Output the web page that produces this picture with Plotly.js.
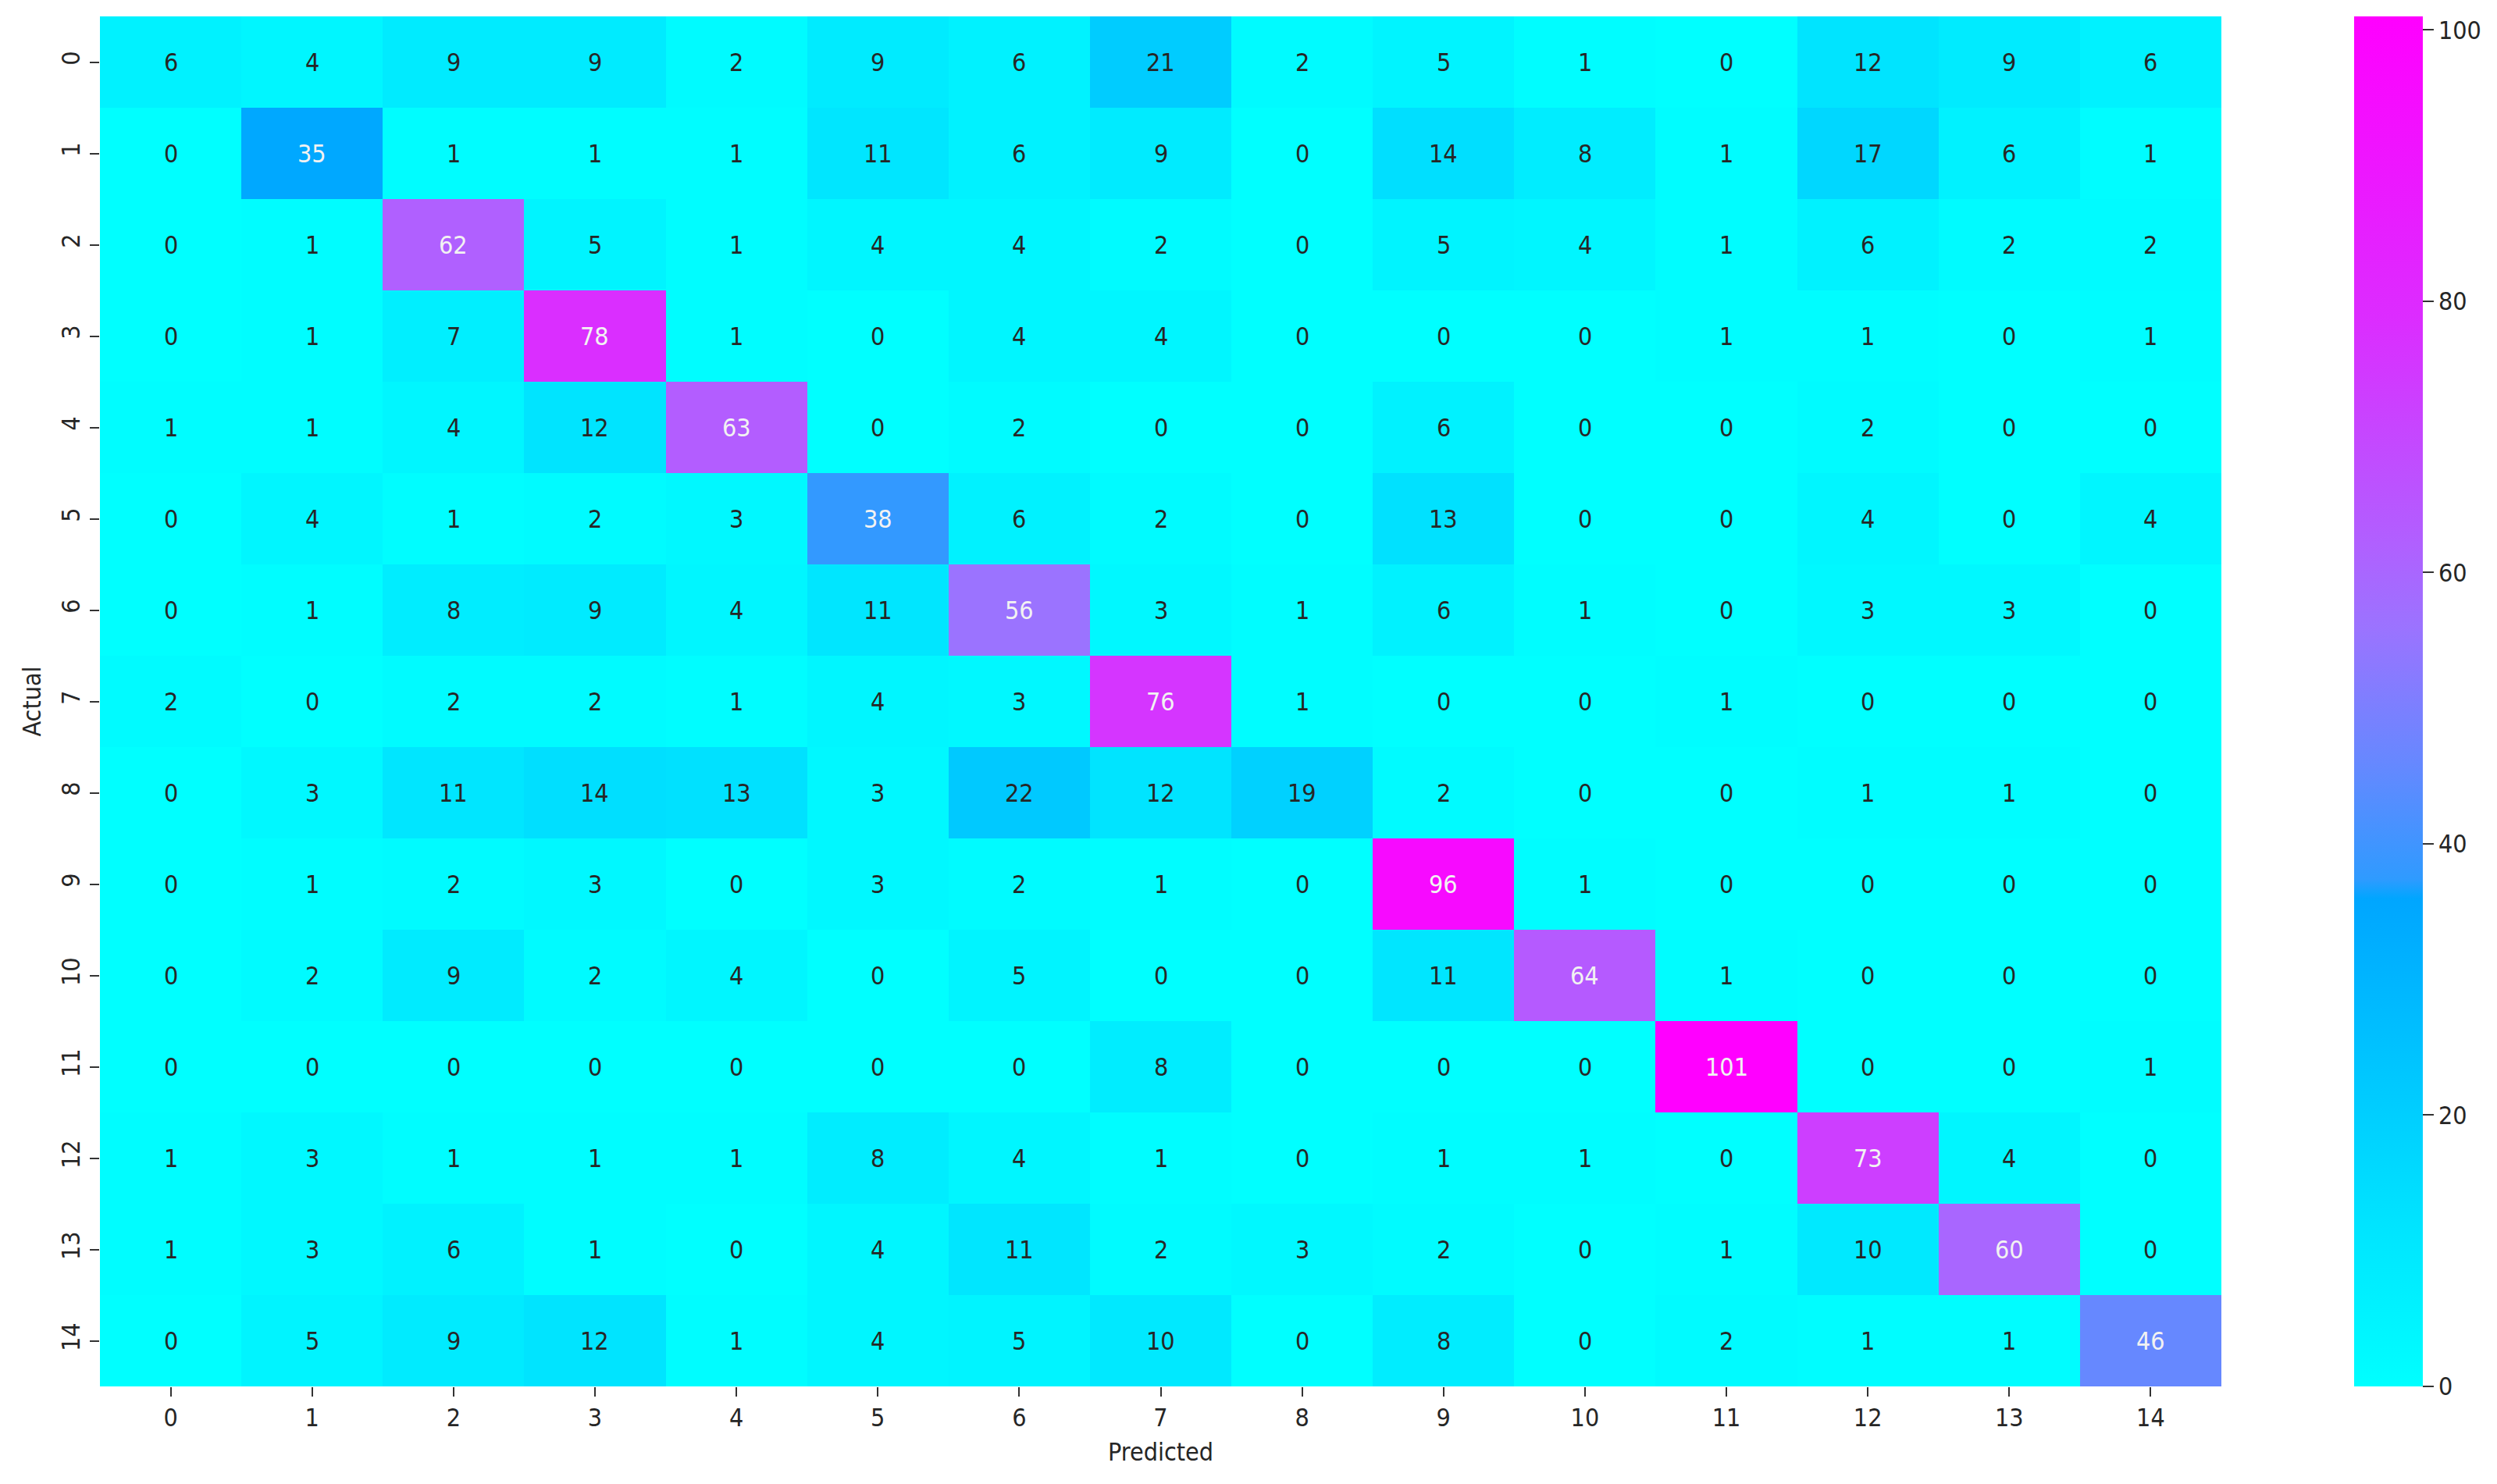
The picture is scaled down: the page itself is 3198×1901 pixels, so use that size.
<!DOCTYPE html>
<html>
<head>
<meta charset="utf-8">
<script src="https://cdn.plot.ly/plotly-3.0.1.min.js"></script>
<style>
  html, body { margin: 0; padding: 0; background: #ffffff; }
  #chart { width: 3198px; height: 1901px; }
</style>
</head>
<body>
<div id="chart"></div>
<script>
// Category labels
var predictedLabels = [0, 1, 2, 3, 4, 5, 6, 7, 8, 9, 10, 11, 12, 13, 14];
var actualLabels = [0, 1, 2, 3, 4, 5, 6, 7, 8, 9, 10, 11, 12, 13, 14];

// Confusion matrix rows (actual class), columns (predicted class)
var row0  = [6, 4, 9, 9, 2, 9, 6, 21, 2, 5, 1, 0, 12, 9, 6];
var row1  = [0, 35, 1, 1, 1, 11, 6, 9, 0, 14, 8, 1, 17, 6, 1];
var row2  = [0, 1, 62, 5, 1, 4, 4, 2, 0, 5, 4, 1, 6, 2, 2];
var row3  = [0, 1, 7, 78, 1, 0, 4, 4, 0, 0, 0, 1, 1, 0, 1];
var row4  = [1, 1, 4, 12, 63, 0, 2, 0, 0, 6, 0, 0, 2, 0, 0];
var row5  = [0, 4, 1, 2, 3, 38, 6, 2, 0, 13, 0, 0, 4, 0, 4];
var row6  = [0, 1, 8, 9, 4, 11, 56, 3, 1, 6, 1, 0, 3, 3, 0];
var row7  = [2, 0, 2, 2, 1, 4, 3, 76, 1, 0, 0, 1, 0, 0, 0];
var row8  = [0, 3, 11, 14, 13, 3, 22, 12, 19, 2, 0, 0, 1, 1, 0];
var row9  = [0, 1, 2, 3, 0, 3, 2, 1, 0, 96, 1, 0, 0, 0, 0];
var row10 = [0, 2, 9, 2, 4, 0, 5, 0, 0, 11, 64, 1, 0, 0, 0];
var row11 = [0, 0, 0, 0, 0, 0, 0, 8, 0, 0, 0, 101, 0, 0, 1];
var row12 = [1, 3, 1, 1, 1, 8, 4, 1, 0, 1, 1, 0, 73, 4, 0];
var row13 = [1, 3, 6, 1, 0, 4, 11, 2, 3, 2, 0, 1, 10, 60, 0];
var row14 = [0, 5, 9, 12, 1, 4, 5, 10, 0, 8, 0, 2, 1, 1, 46];

var colorbarTicks = [0, 20, 40, 60, 80, 100];

var z = [row0, row1, row2, row3, row4, row5, row6, row7, row8, row9, row10, row11, row12, row13, row14];

var FONT = "'DejaVu Sans Condensed', 'DejaVu Sans', sans-serif";
var TEXT_DARK = '#262626';

var colorscale = [
  [0.0, '#00FFFF'],
  [0.119, '#00E4FF'],
  [0.208, '#00CCFF'],
  [0.347, '#00A8FF'],
  [0.356, '#00A6FF'],
  [0.37, '#2E9BFF'],
  [0.376, '#3399FF'],
  [0.455, '#6688FF'],
  [0.554, '#9B73FF'],
  [0.614, '#B060FF'],
  [0.78, '#DC2CFF'],
  [1.0, '#FF00FF']
];

var trace = {
  type: 'heatmap',
  x: predictedLabels,
  y: actualLabels,
  z: z,
  zmin: 0,
  zmax: 101,
  colorscale: colorscale,
  xgap: 0, ygap: 0,
  hoverinfo: 'x+y+z',
  colorbar: {
    x: 1.0626, xanchor: 'left', xref: 'paper',
    y: 0, yanchor: 'bottom', len: 1, lenmode: 'fraction',
    thickness: 88, thicknessmode: 'pixels',
    outlinewidth: 0,
    tickvals: colorbarTicks,
    ticks: 'outside', ticklen: 14, tickwidth: 2, tickcolor: '#333333',
    tickfont: { family: FONT, size: 32, color: TEXT_DARK },
    xpad: 0, ypad: 0
  }
};

var annotations = [];
for (var r = 0; r < z.length; r++) {
  for (var c = 0; c < z[r].length; c++) {
    var v = z[r][c];
    annotations.push({
      x: predictedLabels[c], y: actualLabels[r], xref: 'x', yref: 'y',
      text: String(v), showarrow: false,
      font: { family: FONT, size: 32, color: v >= 30 ? '#F2F2F2' : TEXT_DARK }
    });
  }
}

var layout = {
  width: 3198, height: 1901,
  margin: { l: 128, r: 353, t: 21, b: 125, pad: 0 },
  paper_bgcolor: '#ffffff', plot_bgcolor: '#ffffff',
  font: { family: FONT, size: 32, color: TEXT_DARK },
  xaxis: {
    tickvals: predictedLabels, ticktext: predictedLabels.map(String),
    ticks: 'outside', ticklen: 12, tickwidth: 2, tickcolor: '#333333',
    tickfont: { family: FONT, size: 32, color: TEXT_DARK },
    showgrid: false, zeroline: false, showline: false,
    title: { text: 'Predicted', font: { family: FONT, size: 32, color: TEXT_DARK }, standoff: 14 }
  },
  yaxis: {
    autorange: 'reversed',
    tickvals: actualLabels, ticktext: actualLabels.map(String),
    tickangle: -90,
    ticks: 'outside', ticklen: 12, tickwidth: 2, tickcolor: '#333333',
    tickfont: { family: FONT, size: 32, color: TEXT_DARK },
    showgrid: false, zeroline: false, showline: false,
    title: { text: 'Actual', font: { family: FONT, size: 32, color: TEXT_DARK }, standoff: 10 }
  },
  annotations: annotations
};

Plotly.newPlot('chart', [trace], layout, { displayModeBar: false, staticPlot: true });
</script>
</body>
</html>
